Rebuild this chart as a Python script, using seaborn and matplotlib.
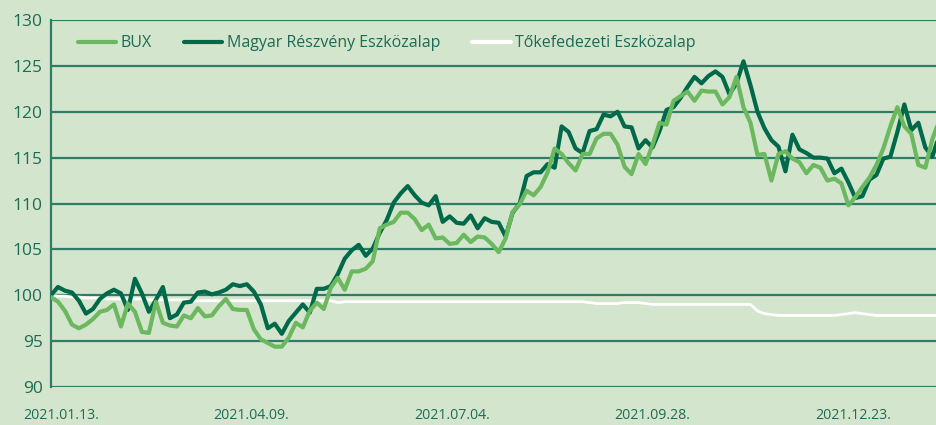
import pandas as pd
import matplotlib.pyplot as plt
import matplotlib.dates as mdates
import matplotlib.transforms as mtransforms
from matplotlib.lines import Line2D
import seaborn as sns

# Adatok: 3 naponkénti mintavétel 2021.01.13-tól (leolvasva az ábráról)
start_date = "2021-01-13"
step = "3D"

bux = [
    99.8, 99.3, 98.3, 96.8, 96.4, 96.8, 97.4, 98.2, 98.4, 99.0,
    96.6, 99.1, 98.2, 96.0, 95.9, 99.3, 97.0, 96.7, 96.6, 97.8,
    97.5, 98.6, 97.7, 97.8, 98.8, 99.6, 98.5, 98.4, 98.4, 96.3,
    95.2, 94.8, 94.4, 94.4, 95.4, 97.0, 96.5, 98.3, 99.2, 98.5,
    100.8, 101.9, 100.6, 102.6, 102.6, 102.9, 103.7, 107.3, 107.7, 108.0,
    109.0, 109.0, 108.3, 107.1, 107.7, 106.2, 106.3, 105.6, 105.7, 106.6,
    105.8, 106.4, 106.3, 105.6, 104.7, 106.2, 109.1, 109.9, 111.4, 110.9,
    111.8, 113.4, 116.0, 115.4, 114.4, 113.6, 115.4, 115.4, 117.1, 117.6,
    117.6, 116.4, 114.0, 113.2, 115.4, 114.3, 116.4, 118.8, 118.6, 121.2,
    121.7, 122.2, 121.2, 122.3, 122.2, 122.2, 120.8, 121.6, 123.8, 120.5,
    118.8, 115.3, 115.4, 112.5, 115.4, 115.7, 114.9, 114.5, 113.3, 114.2,
    113.9, 112.5, 112.7, 112.2, 109.8, 110.7, 111.8, 112.8, 114.2, 116.0,
    118.4, 120.5, 118.4, 117.6, 114.2, 113.9, 117.0, 119.1,
]

magyar = [
    100.0, 100.9, 100.5, 100.3, 99.4, 98.0, 98.5, 99.6, 100.2, 100.6,
    100.2, 98.4, 101.8, 100.2, 98.2, 99.5, 100.9, 97.5, 97.9, 99.2,
    99.3, 100.3, 100.4, 100.1, 100.3, 100.6, 101.2, 101.0, 101.2, 100.4,
    99.0, 96.4, 96.9, 95.8, 97.2, 98.1, 99.0, 98.1, 100.7, 100.7,
    101.0, 102.3, 104.0, 104.9, 105.5, 104.3, 105.1, 106.8, 108.2, 110.1,
    111.1, 111.9, 110.9, 110.1, 109.8, 110.8, 108.0, 108.6, 107.9, 107.8,
    108.7, 107.3, 108.4, 108.0, 107.9, 106.4, 109.0, 110.0, 113.0, 113.4,
    113.4, 114.3, 113.9, 118.4, 117.8, 116.0, 115.5, 117.9, 118.1, 119.7,
    119.5, 120.0, 118.4, 118.3, 116.0, 116.9, 116.1, 117.9, 120.2, 120.5,
    121.5, 122.7, 123.8, 123.1, 123.9, 124.4, 123.8, 121.9, 123.1, 125.5,
    122.9, 120.0, 118.2, 116.9, 116.2, 113.5, 117.5, 115.9, 115.5, 115.0,
    115.0, 114.9, 113.3, 113.8, 112.3, 110.6, 110.8, 112.6, 113.1, 114.9,
    115.1, 117.8, 120.8, 118.0, 118.8, 116.1, 115.1, 117.5,
]

tokefedezeti = [
    100.0, 99.9, 99.9, 99.8, 99.8, 99.7, 99.7, 99.7, 99.6, 99.6,
    99.6, 99.6, 99.6, 99.6, 99.5, 99.5, 99.5, 99.5, 99.5, 99.5,
    99.4, 99.4, 99.4, 99.4, 99.4, 99.4, 99.4, 99.4, 99.4, 99.4,
    99.4, 99.4, 99.4, 99.4, 99.4, 99.4, 99.4, 99.4, 99.4, 99.4,
    99.4, 99.2, 99.3, 99.3, 99.3, 99.3, 99.3, 99.3, 99.3, 99.3,
    99.3, 99.3, 99.3, 99.3, 99.3, 99.3, 99.3, 99.3, 99.3, 99.3,
    99.3, 99.3, 99.3, 99.3, 99.3, 99.3, 99.3, 99.3, 99.3, 99.3,
    99.3, 99.3, 99.3, 99.3, 99.3, 99.3, 99.3, 99.2, 99.1, 99.1,
    99.1, 99.1, 99.2, 99.2, 99.2, 99.1, 99.0, 99.0, 99.0, 99.0,
    99.0, 99.0, 99.0, 99.0, 99.0, 99.0, 99.0, 99.0, 99.0, 99.0,
    99.0, 98.3, 98.0, 97.9, 97.8, 97.8, 97.8, 97.8, 97.8, 97.8,
    97.8, 97.8, 97.8, 97.9, 98.0, 98.1, 98.0, 97.9, 97.8, 97.8,
    97.8, 97.8, 97.8, 97.8, 97.8, 97.8, 97.8, 97.8,
]

tick_dates = ["2021-01-13", "2021-04-09", "2021-07-04", "2021-09-28", "2021-12-23"]
x_end = "2022-01-28"

labels = ["BUX", "Magyar Részvény Eszközalap", "Tőkefedezeti Eszközalap"]

BG = "#d4e5cd"
GRID = "#2f7d67"
TEXT = "#1b6b55"
DARK = "#00694a"
LIGHT = "#6bb85f"
WHITE = "#ffffff"

dates = pd.date_range(start_date, periods=len(bux), freq=step)
df = pd.DataFrame({"date": dates, "bux": bux, "magyar": magyar, "toke": tokefedezeti})

sns.set_style("white")
plt.rcParams["font.family"] = ["Open Sans", "DejaVu Sans"]

fig = plt.figure(figsize=(9.37, 4.25), dpi=100, facecolor=BG)
ax = fig.add_axes([0.0544, 0.0894, 0.9456, 0.8635])
ax.set_facecolor(BG)

sns.lineplot(data=df, x="date", y="toke", ax=ax, color=WHITE, linewidth=2.0, zorder=3)
sns.lineplot(data=df, x="date", y="magyar", ax=ax, color=DARK, linewidth=3.0, zorder=4)
sns.lineplot(data=df, x="date", y="bux", ax=ax, color=LIGHT, linewidth=3.0, zorder=5)

ax.set_xlim(pd.Timestamp(start_date), pd.Timestamp(x_end))
ax.set_ylim(90, 130)
ax.set_yticks(range(90, 131, 5))
ax.set_xticks(pd.to_datetime(tick_dates))
ax.xaxis.set_major_formatter(mdates.DateFormatter("%Y.%m.%d."))
ax.set_xlabel("")
ax.set_ylabel("")

ax.grid(axis="y", color=GRID, linewidth=1.6, zorder=1)
ax.grid(axis="x", visible=False)
for side in ["top", "right", "bottom"]:
    ax.spines[side].set_visible(False)
ax.spines["left"].set_color(GRID)
ax.spines["left"].set_linewidth(1.6)

ax.tick_params(axis="y", length=0, pad=6, labelsize=12.5, labelcolor=TEXT)
ax.tick_params(axis="x", length=0, pad=15, labelsize=10.2, labelcolor=TEXT)

# az első dátumcímke kicsit jobbra tolva, mint az eredetin
first = ax.get_xticklabels()[0]
first.set_transform(first.get_transform() +
                    mtransforms.ScaledTranslation(0.1, 0, fig.dpi_scale_trans))

handles = [
    Line2D([], [], color=LIGHT, linewidth=3.0),
    Line2D([], [], color=DARK, linewidth=3.0),
    Line2D([], [], color=WHITE, linewidth=3.0),
]
leg = ax.legend(handles, labels, ncol=3, frameon=False, loc="center left",
                bbox_to_anchor=(0.03, 0.937), borderpad=0, borderaxespad=0,
                handlelength=2.4, handletextpad=0.3, columnspacing=2.0,
                fontsize=11.5)
for t in leg.get_texts():
    t.set_color(TEXT)

fig.savefig("out.png", dpi=100, facecolor=BG)
